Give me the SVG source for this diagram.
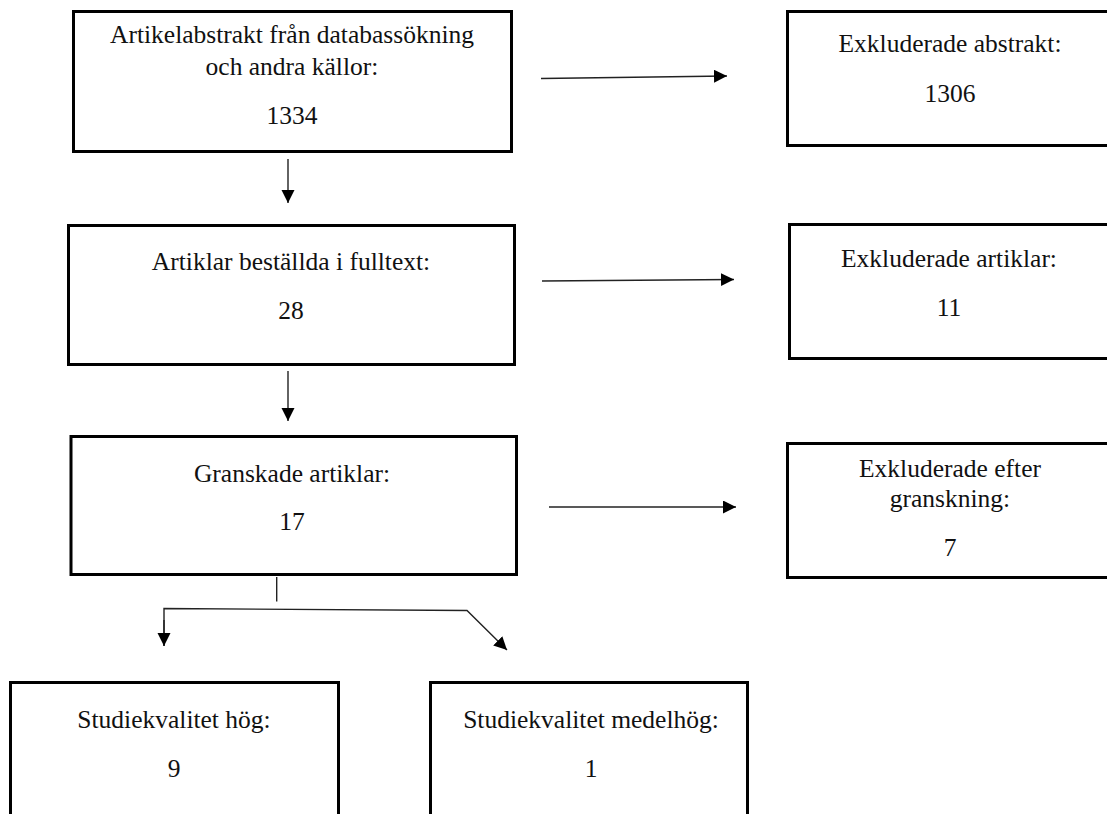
<svg xmlns="http://www.w3.org/2000/svg" width="1107" height="814" viewBox="0 0 1107 814">
<style>
.box{fill:#fff;stroke:#000;stroke-width:3}
.t{font-family:"Liberation Serif","Times New Roman",serif;font-size:25.5px;fill:#111;text-anchor:middle}
.c{stroke:#222;stroke-width:1.4;fill:none}
</style>
<defs>
<marker id="ah" markerUnits="userSpaceOnUse" markerWidth="14" markerHeight="14" refX="13" refY="6.5" orient="auto">
<path d="M0,0 L13,6.5 L0,13 Z" fill="#000"/>
</marker>
</defs>
<rect width="1107" height="814" fill="#fff"/>
<g id="n1"><rect class="box" x="73.5" y="11.5" width="438" height="140"/>
<text class="t" x="292" y="43">Artikelabstrakt från databassökning</text>
<text class="t" x="292" y="75">och andra källor:</text>
<text class="t" x="292" y="124">1334</text></g>
<g id="n2"><rect class="box" x="68.5" y="225.5" width="446" height="139"/>
<text class="t" x="291" y="270">Artiklar beställda i fulltext:</text>
<text class="t" x="291" y="319">28</text></g>
<g id="n3"><rect class="box" x="71" y="436.5" width="445.5" height="138"/>
<text class="t" x="292" y="482">Granskade artiklar:</text>
<text class="t" x="292" y="530">17</text></g>
<g id="r1"><rect class="box" x="787.5" y="11.5" width="326" height="134"/>
<text class="t" x="950" y="52">Exkluderade abstrakt:</text>
<text class="t" x="950" y="102">1306</text></g>
<g id="r2"><rect class="box" x="789.5" y="224.5" width="324" height="134"/>
<text class="t" x="949" y="267">Exkluderade artiklar:</text>
<text class="t" x="949" y="316">11</text></g>
<g id="r3"><rect class="box" x="787.5" y="443.5" width="326" height="134"/>
<text class="t" x="950" y="477">Exkluderade efter</text>
<text class="t" x="950" y="507">granskning:</text>
<text class="t" x="950" y="556">7</text></g>
<g id="b1"><rect class="box" x="10.5" y="682.5" width="328" height="150"/>
<text class="t" x="174" y="728">Studiekvalitet hög:</text>
<text class="t" x="174" y="777">9</text></g>
<g id="b2"><rect class="box" x="430.5" y="682.5" width="317" height="150"/>
<text class="t" x="591" y="728">Studiekvalitet medelhög:</text>
<text class="t" x="591" y="777">1</text></g>
<g id="connectors">
<line class="c" x1="541" y1="78.5" x2="727" y2="76" marker-end="url(#ah)"/>
<line class="c" x1="542" y1="281" x2="734" y2="279.5" marker-end="url(#ah)"/>
<line class="c" x1="549" y1="507" x2="736" y2="507" marker-end="url(#ah)"/>
<line class="c" x1="288" y1="159" x2="288" y2="203" marker-end="url(#ah)"/>
<line class="c" x1="288" y1="371" x2="288" y2="421" marker-end="url(#ah)"/>
<line class="c" x1="276.7" y1="577" x2="276.7" y2="601.5" stroke-width="1"/>
<polyline class="c" points="164,646 164,608.5 467,610.5 507,650" marker-end="url(#ah)"/>
<line class="c" x1="164" y1="620" x2="164" y2="646" marker-end="url(#ah)"/>
</g>
</svg>
